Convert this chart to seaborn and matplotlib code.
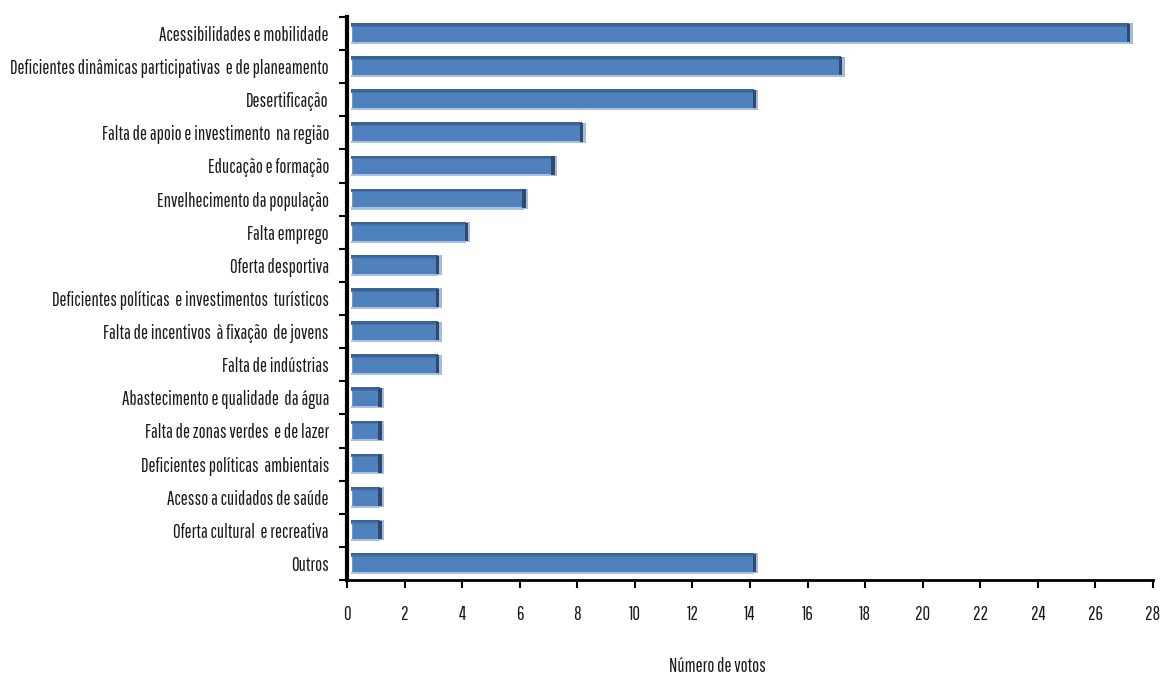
import matplotlib
matplotlib.use("Agg")
import matplotlib.pyplot as plt
import matplotlib.patches as mpatches
from matplotlib.ticker import FixedLocator
import seaborn as sns
import pandas as pd

categorias = [
    "Acessibilidades e mobilidade",
    "Deficientes dinâmicas participativas  e de planeamento",
    "Desertificação",
    "Falta de apoio e investimento  na região",
    "Educação e formação",
    "Envelhecimento da população",
    "Falta emprego",
    "Oferta desportiva",
    "Deficientes políticas  e investimentos  turísticos",
    "Falta de incentivos  à fixação  de jovens",
    "Falta de indústrias",
    "Abastecimento e qualidade  da água",
    "Falta de zonas verdes  e de lazer",
    "Deficientes políticas  ambientais",
    "Acesso a cuidados de saúde",
    "Oferta cultural  e recreativa",
    "Outros",
]
votos = [27, 17, 14, 8, 7, 6, 4, 3, 3, 3, 3, 1, 1, 1, 1, 1, 14]
eixo_x = list(range(0, 29, 2))
titulo_x = "Número de votos"

sns.set_theme(style="white")
plt.rcParams["font.family"] = ["Pathway Gothic One", "Roboto Condensed", "DejaVu Sans"]

df = pd.DataFrame({"categoria": categorias, "votos": votos})

fig = plt.figure(figsize=(11.62, 6.77), dpi=100)
ax = fig.add_axes([0.2986, 0.1433, 0.6937, 0.8317])

face = "#4F81BD"
sns.barplot(data=df, y="categoria", x="votos", orient="h", color=face,
            saturation=1, width=0.63, ax=ax)

# depth offset of the bars plus a simple bevel: dark top strip,
# light bottom strip and a dark end cap with a soft halo
profundidade = 0.15
for bar in list(ax.patches):
    bar.set_x(bar.get_x() + profundidade)
    bar.set_zorder(2)
    x0, y0 = bar.get_x(), bar.get_y()
    w, h = bar.get_width(), bar.get_height()
    ax.add_patch(mpatches.Rectangle((x0, y0), w, h * 0.12,
                                    color="#3C6395", lw=0, zorder=3))
    ax.add_patch(mpatches.Rectangle((x0, y0 + h * 0.12), w, h * 0.06,
                                    color="#4673AA", lw=0, zorder=3))
    ax.add_patch(mpatches.Rectangle((x0, y0 + h * 0.9), w, h * 0.1,
                                    color="#A9C0DE", lw=0, zorder=3))
    ax.add_patch(mpatches.Rectangle((x0 + w, y0 + h * 0.02), 0.14, h * 0.96,
                                    color="#A7BBD8", lw=0, zorder=3))
    ax.add_patch(mpatches.Rectangle((x0 + w - 0.06, y0 + h * 0.04), 0.12, h * 0.88,
                                    color="#2B4A74", lw=0, zorder=4))

ax.set_xlim(0, 28)
ax.set_ylim(len(categorias) - 0.5, -0.5)
ax.set_xticks(eixo_x)
ax.set_xticklabels([str(v) for v in eixo_x])

ax.yaxis.set_minor_locator(FixedLocator([i - 0.5 for i in range(len(categorias) + 1)]))
ax.tick_params(axis="y", which="major", length=0, pad=13, labelsize=13.5, colors="#1a1a1a")
ax.tick_params(axis="y", which="minor", length=6, width=1.5, color="black", left=True)
ax.tick_params(axis="x", which="major", length=6, width=1.5, color="black",
               bottom=True, pad=12, labelsize=13.5, labelcolor="#1a1a1a")

for s in ["top", "right"]:
    ax.spines[s].set_visible(False)
ax.spines["left"].set_linewidth(3)
ax.spines["left"].set_color("black")
ax.spines["bottom"].set_linewidth(2)
ax.spines["bottom"].set_color("black")

ax.set_ylabel("")
ax.set_xlabel("")
fig.text(717 / 1162, 1 - 666 / 677, titulo_x, ha="center", va="center",
         fontsize=13.5, color="#1a1a1a")

fig.savefig("out.png", dpi=100)
